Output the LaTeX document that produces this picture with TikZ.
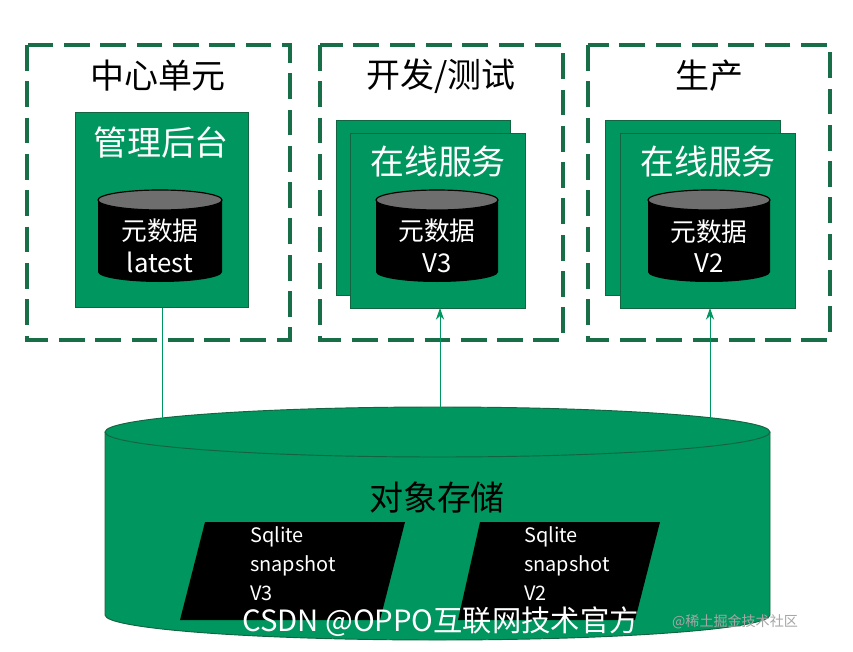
\documentclass[tikz,border=0pt]{standalone}
\usepackage{fontspec}
\setmainfont{Noto Sans CJK SC}
\usetikzlibrary{shapes.geometric,arrows.meta}
\definecolor{dg}{RGB}{24,110,70}
\definecolor{gf}{RGB}{0,150,95}
\definecolor{gb}{RGB}{20,100,65}
\definecolor{cylt}{RGB}{110,110,110}
\tikzset{x=0.03cm,y=-0.03cm,
  zone/.style={draw=dg,line width=3.5pt,dash pattern=on 22pt off 9pt},
  gbox/.style={draw=gb,fill=gf,line width=0.8pt},
  ttl/.style={font=\fontsize{29}{32}\selectfont,text=black},
  wtx/.style={font=\fontsize{29}{32}\selectfont,text=white},
  ctx/.style={font=\fontsize{22}{27}\selectfont,text=white,align=center},
  stx/.style={font=\fontsize{17}{25}\selectfont,text=white,align=left},
  arr/.style={draw=gf,line width=0.7pt,-{Stealth[length=10pt,width=7pt]}}}
\newcommand{\dbcyl}[4]{% x1,x2,ytop,ybottom
  \fill[black] (#1,#3) -- (#1,#4) arc[x radius={(#2-#1)/2},y radius=10,start angle=180,end angle=0] -- (#2,#3) -- cycle;
  \filldraw[fill=cylt,draw=black,line width=1pt] ({(#1+#2)/2},#3) ellipse[x radius={(#2-#1)/2},y radius=10];}
\begin{document}
\begin{tikzpicture}
\useasboundingbox (0,0) rectangle (853,651);
\fill[white] (0,0) rectangle (853,651);
% zones
\draw[zone] (27,45) rectangle (290,340);
\draw[zone] (320,45) rectangle (563,340);
\draw[zone] (588,45) rectangle (830,340);
\node[ttl] (z1) at (158,76) {中心单元};
\node[ttl] (z2) at (441,76) {开发/测试};
\node[ttl] (z3) at (709,76) {生产};
% box 1
\draw[gbox] (75,112) rectangle (248,307);
\node[wtx] (b1) at (161,143) {管理后台};
\dbcyl{98}{222}{200}{272}
\node[ctx] (m1) at (160,246) {元数据\\latest};
% box 2
\draw[gbox] (336,120) rectangle (510,295);
\draw[gbox] (350,133) rectangle (525,308);
\node[wtx] (b2) at (438,162) {在线服务};
\dbcyl{376}{498}{200}{272}
\node[ctx] (m2) at (437,246) {元数据\\V3};
% box 3
\draw[gbox] (605,120) rectangle (780,295);
\draw[gbox] (620,133) rectangle (795,308);
\node[wtx] (b3) at (708,162) {在线服务};
\dbcyl{648}{770}{200}{272}
\node[ctx] (m3) at (709,246) {元数据\\V2};
% big storage cylinder
\fill[gf] (105,432) -- (105,615) arc[x radius=332.5,y radius=25,start angle=180,end angle=0] -- (770,432) -- cycle;
\draw[gb,line width=0.8pt] (105,432) -- (105,615) arc[x radius=332.5,y radius=25,start angle=180,end angle=0] -- (770,432);
\filldraw[fill=gf,draw=gb,line width=0.8pt] (437.5,432) ellipse[x radius=332.5,y radius=25];
\node[wtx,text=black] (st) at (437,497) {对象存储};
\coordinate (c1) at (162,430);
\coordinate (c2) at (440,432);
\coordinate (c3) at (710,432);
\coordinate (t1) at (162,308);
\coordinate (t2) at (440,308);
\coordinate (t3) at (710,308);
\draw[arr] (t1) -- (c1);
\draw[arr] (c2) -- (t2);
\draw[arr] (c3) -- (t3);
% snapshots
\fill[black] (205,522) -- (405,522) -- (380,620) -- (180,620) -- cycle;
\fill[black] (480,522) -- (660,522) -- (635,620) -- (458,620) -- cycle;
\node[stx,anchor=north west] (s1) at (246,522) {Sqlite\\snapshot\\V3};
\node[stx,anchor=north west] (s2) at (520,522) {Sqlite\\snapshot\\V2};
% watermark
\node[font=\fontsize{25}{27}\selectfont,text=white,anchor=west] (w1) at (238,622) {CSDN @OPPO互联网技术官方};
\node[font=\fontsize{12}{14}\selectfont,text=gray!70,anchor=west] (w2) at (668,622) {@稀土掘金技术社区};
\end{tikzpicture}
\end{document}
